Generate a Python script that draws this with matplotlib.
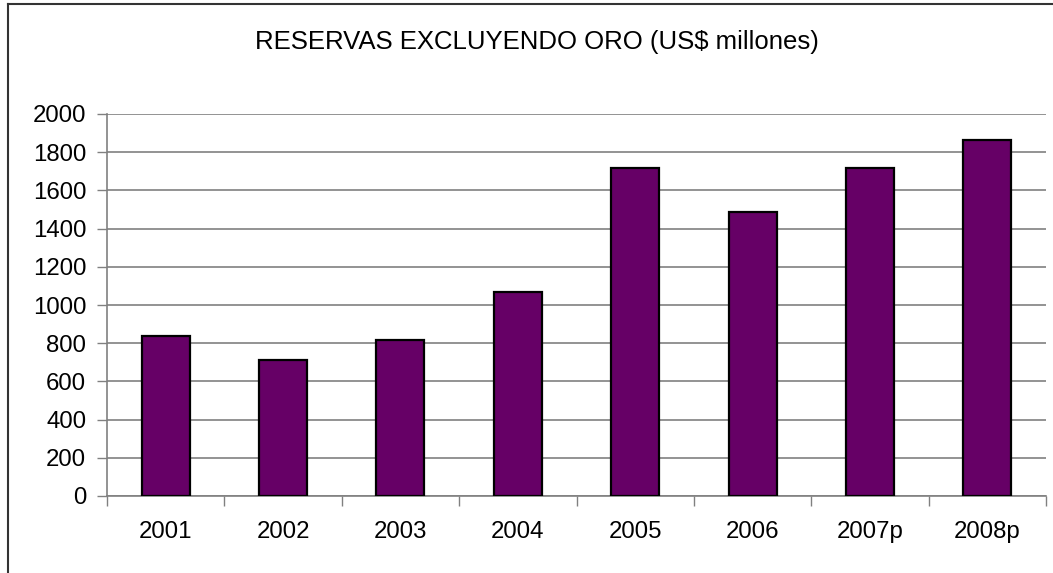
import matplotlib
matplotlib.use("Agg")
import matplotlib.pyplot as plt
from matplotlib.lines import Line2D
import numpy as np

plt.rcParams['font.family'] = ['Liberation Sans', 'DejaVu Sans']

categories = ["2001", "2002", "2003", "2004", "2005", "2006", "2007p", "2008p"]
values = [840, 712, 817, 1068, 1719, 1488, 1717, 1864]
yticks = [0, 200, 400, 600, 800, 1000, 1200, 1400, 1600, 1800, 2000]
title = "RESERVAS EXCLUYENDO ORO (US$ millones)"

W, H = 1053, 573
fig = plt.figure(figsize=(W/100, H/100), dpi=100)
ax = fig.add_axes([107/W, 1-496/H, (1046-107)/W, (496-114)/H])

x = np.arange(len(categories))
ax.bar(x, values, width=0.41, color="#660066", edgecolor="black", linewidth=1.6, zorder=3)

ax.set_xlim(-0.5, len(categories)-0.5)
ax.set_ylim(0, 2000)
ax.set_yticks(yticks)
ax.set_yticklabels([str(v) for v in yticks], fontsize=17.3)
ax.yaxis.grid(True, color="#808080", linewidth=1.2, zorder=0)
ax.set_axisbelow(True)

ax.set_xticks(x)
ax.set_xticklabels(categories, fontsize=17.3)
ax.set_xticks(np.arange(len(categories)+1)-0.5, minor=True)
ax.tick_params(axis='x', which='major', length=0, pad=18)
ax.tick_params(axis='x', which='minor', length=7, width=1, color="#808080", direction='out')
ax.tick_params(axis='y', length=7, width=1, color="#808080", pad=8)

for s in ['top', 'right']:
    ax.spines[s].set_visible(False)
for s in ['left', 'bottom']:
    ax.spines[s].set_color("#808080")
    ax.spines[s].set_linewidth(1.2)

fig.text(537/W, 1-42/H, title, fontsize=18.5, ha='center', va='center')

# outer chart frame (partially visible)
fig.add_artist(Line2D([8/W, 8/W], [0, 1-4/H], color="#333333", linewidth=1.5, transform=fig.transFigure))
fig.add_artist(Line2D([8/W, 1], [1-4/H, 1-4/H], color="#333333", linewidth=1.5, transform=fig.transFigure))

fig.savefig("out.png", dpi=100, facecolor="white")
